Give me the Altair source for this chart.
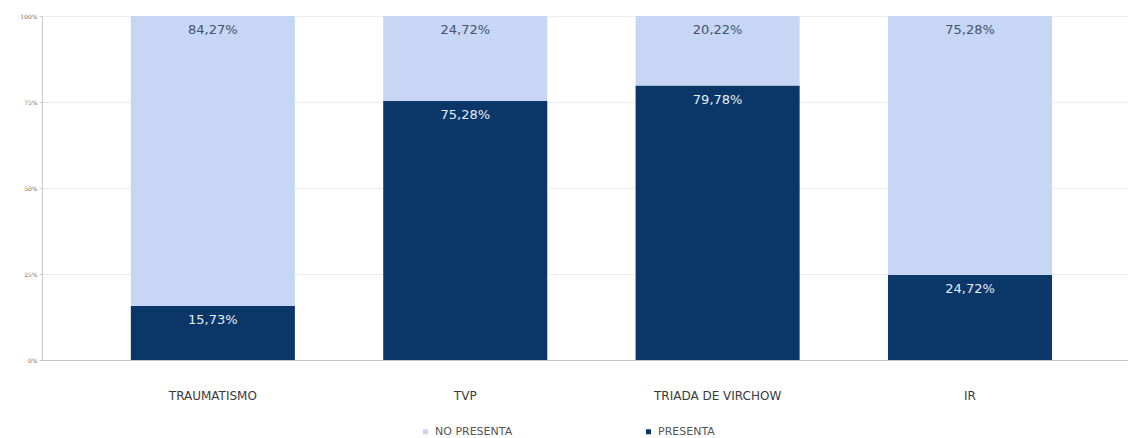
import altair as alt
import pandas as pd

categories = ["TRAUMATISMO", "TVP", "TRIADA  DE VIRCHOW", "IR"]
presenta = [15.73, 75.28, 79.78, 24.72]
no_presenta = [84.27, 24.72, 20.22, 75.28]
series = ["NO PRESENTA", "PRESENTA"]
y_ticks = [0, 25, 50, 75, 100]

def fmt(v):
    return f"{v:.2f}".replace(".", ",") + "%"

rows = []
for c, p, n in zip(categories, presenta, no_presenta):
    rows.append({"cat": c, "serie": "PRESENTA", "val": p, "ord": 0, "top": p, "label": fmt(p)})
    rows.append({"cat": c, "serie": "NO PRESENTA", "val": n, "ord": 1, "top": p + n, "label": fmt(n)})
df = pd.DataFrame(rows)

light = "#c6d6f4"
dark = "#0b3768"

xscale = alt.Scale(paddingInner=0.35, paddingOuter=0.3265, align=0.539)

x = alt.X("cat:N", sort=categories, title=None, scale=xscale,
          axis=alt.Axis(labelAngle=0, labelFontSize=12, labelColor="#3a3a3a", labelFont="DejaVu Sans",
                        labelPadding=30, ticks=False, domainColor="#c8c8c8", grid=False))

bars = alt.Chart(df).mark_bar().encode(
    x=x,
    y=alt.Y("val:Q", stack="zero", title=None,
            scale=alt.Scale(domain=[0, 100], nice=False),
            axis=alt.Axis(values=y_ticks, labelExpr="datum.value + '%'", labelFontSize=6,
                          labelColor="#666", labelFont="DejaVu Serif", domainColor="#c8c8c8",
                          gridColor="#ececec", tickColor="#c8c8c8", tickSize=3, labelPadding=2)),
    color=alt.Color("serie:N", sort=series,
                    scale=alt.Scale(domain=series, range=[light, dark]),
                    legend=alt.Legend(title=None, orient="none", direction="horizontal",
                                      legendX=378, legendY=410, symbolType="square",
                                      symbolSize=25, labelFontSize=11, labelColor="#555",
                                      labelFont="DejaVu Sans", columnPadding=130,
                                      symbolStrokeWidth=0)),
    order=alt.Order("ord:Q"),
)

text = alt.Chart(df).mark_text(dy=14, fontSize=13, font="DejaVu Sans", baseline="middle").encode(
    x=alt.X("cat:N", sort=categories, scale=xscale),
    y=alt.Y("top:Q"),
    text="label:N",
    color=alt.Color("serie:N", scale=alt.Scale(domain=series, range=["#44536f", "#e6ecf8"]), legend=None),
)

chart = alt.layer(bars, text).resolve_scale(color="independent").properties(
    width=1086, height=344,
    autosize=alt.AutoSizeParams(type="none"),
    padding={"left": 42, "top": 16, "right": 0, "bottom": 78},
).configure_view(stroke=None)

chart.save("out.html", embed_options={"renderer": "svg", "actions": False})
